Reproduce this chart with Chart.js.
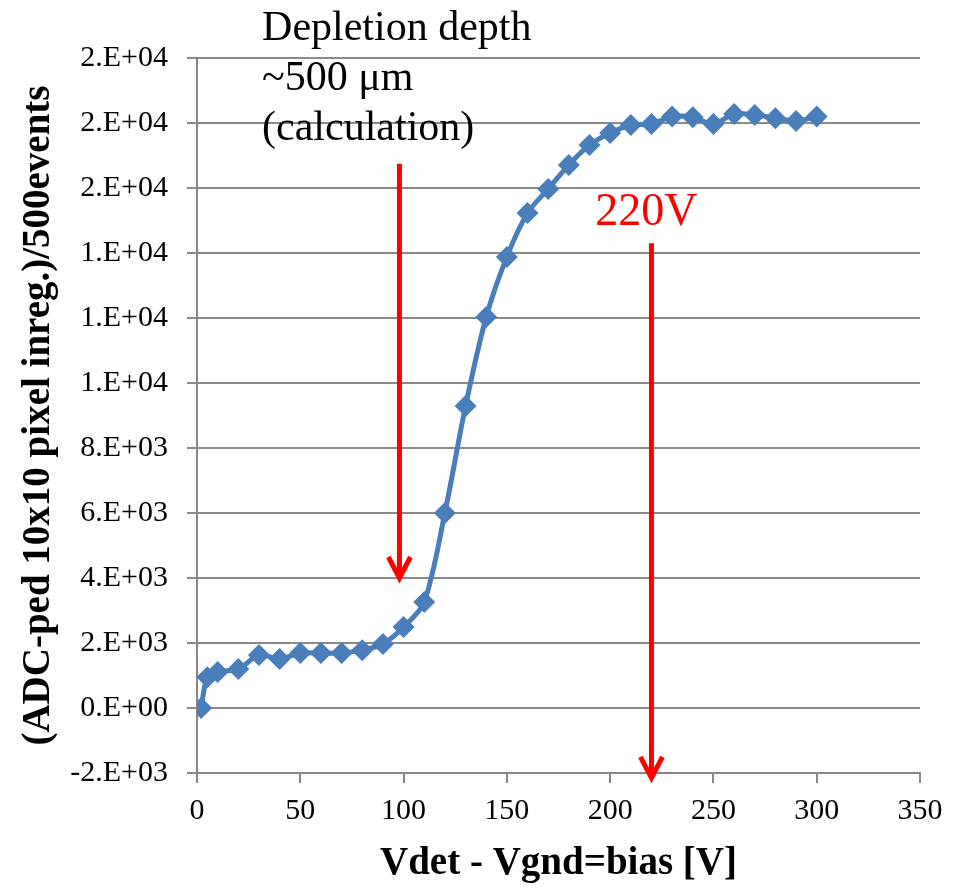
<!DOCTYPE html>
<html>
<head>
<meta charset="utf-8">
<script src="https://cdn.jsdelivr.net/npm/chart.js@4.4.1/dist/chart.umd.min.js"></script>
<style>
  body { margin: 0; background: #fff; }
  #wrap { width: 958px; height: 891px; }
</style>
</head>
<body>
<div id="wrap"><canvas id="biasChart" width="958" height="891"></canvas></div>
<script>
// --- data ---
const biasVolts = [2, 5, 10, 20, 30, 40, 50, 60, 70, 80, 90, 100, 110, 120, 130, 140, 150, 160,
                   170, 180, 190, 200, 210, 220, 230, 240, 250, 260, 270, 280, 290, 300];
const adcSum = [0, 950, 1110, 1200, 1630, 1510, 1690, 1690, 1690, 1780, 1970, 2490, 3260, 6000,
                9290, 12030, 13880, 15230, 15970, 16710, 17320, 17690, 17940, 17970, 18200, 18180,
                17970, 18280, 18250, 18150, 18060, 18200];

const yTickLabels = ['-2.E+03', '0.E+00', '2.E+03', '4.E+03', '6.E+03', '8.E+03',
                     '1.E+04', '1.E+04', '1.E+04', '2.E+04', '2.E+04', '2.E+04'];
const xTickLabels = ['0', '50', '100', '150', '200', '250', '300', '350'];

// annotation arrows (x in V, y in ADC units)
const arrowX = [98, 220];
const arrowTop = [16750, 14300];
const arrowTip = [4000, -2150];
const noteLines = ['Depletion depth', '~500 μm', '(calculation)'];
const markLabel = '220V';

const serif = '"Liberation Serif", "Times New Roman", serif';

// --- arrows + notes ---
const notesPlugin = {
    id: 'notes',
    afterDatasetsDraw(chart) {
        const { ctx, scales: { x, y } } = chart;
        ctx.save();
        ctx.strokeStyle = '#ff0000';
        ctx.lineWidth = 5;
        for (let i = 0; i < arrowX.length; i++) {
            const px = x.getPixelForValue(arrowX[i]);
            const top = y.getPixelForValue(arrowTop[i]);
            const tip = y.getPixelForValue(arrowTip[i]);
            ctx.beginPath();
            ctx.moveTo(px, top);
            ctx.lineTo(px, tip - 3);
            ctx.stroke();
            ctx.beginPath();
            ctx.moveTo(px - 11, tip - 21);
            ctx.lineTo(px, tip);
            ctx.lineTo(px + 11, tip - 21);
            ctx.stroke();
        }
        // notes
        ctx.fillStyle = '#000';
        ctx.font = '42px ' + serif;
        ctx.textAlign = 'left';
        ctx.textBaseline = 'alphabetic';
        const nx = x.getPixelForValue(31.5);
        let ny = y.getPixelForValue(20550);
        noteLines.forEach(line => { ctx.fillText(line, nx, ny); ny += 50; });

        ctx.fillStyle = '#ff0000';
        ctx.font = '46px ' + serif;
        ctx.textAlign = 'center';
        ctx.textBaseline = 'middle';
        ctx.fillText(markLabel, x.getPixelForValue(217.5), y.getPixelForValue(15230));
        ctx.restore();
    }
};

function initChart() {
    const ctx = document.getElementById('biasChart').getContext('2d');
    new Chart(ctx, {
        type: 'line',
        data: {
            datasets: [{
                data: biasVolts.map((v, i) => ({ x: v, y: adcSum[i] })),
                borderColor: '#4a7ebb',
                backgroundColor: '#4a7ebb',
                borderWidth: 5,
                tension: 0.3,
                pointStyle: 'rectRot',
                pointRadius: 11,
                pointBorderWidth: 0
            }]
        },
        options: {
            responsive: false,
            animation: false,
            layout: { padding: { top: 58, right: 38, left: 0, bottom: 0 } },
            plugins: { legend: { display: false }, tooltip: { enabled: false } },
            scales: {
                x: {
                    type: 'linear', min: 0, max: 350,
                    ticks: {
                        stepSize: 50, color: '#000', padding: 10,
                        font: { family: serif, size: 30 },
                        callback: (v, i) => xTickLabels[i]
                    },
                    grid: { drawOnChartArea: false, drawTicks: true, tickLength: 10, color: '#868686', lineWidth: 2 },
                    border: { color: '#868686', width: 2 },
                    title: {
                        display: true, text: 'Vdet - Vgnd=bias [V]', color: '#000',
                        font: { family: serif, size: 39, weight: 'bold' }, padding: { top: 0, bottom: 4 }
                    },
                    afterFit: s => { s.height = 118; }
                },
                y: {
                    min: -2000, max: 20000,
                    ticks: {
                        stepSize: 2000, color: '#000', padding: 19,
                        font: { family: serif, size: 30 },
                        callback: (v, i) => yTickLabels[i]
                    },
                    grid: { color: '#8a8a8a', lineWidth: 2, tickLength: 10 },
                    border: { color: '#868686', width: 2 },
                    title: {
                        display: true, text: '(ADC-ped 10x10 pixel inreg.)/500events', color: '#000',
                        font: { family: serif, size: 39, weight: 'bold' }, padding: { top: 16, bottom: 0 }
                    },
                    afterFit: s => { s.width = 197; }
                }
            }
        },
        plugins: [notesPlugin]
    });
}

document.addEventListener('DOMContentLoaded', initChart);
</script>
</body>
</html>
